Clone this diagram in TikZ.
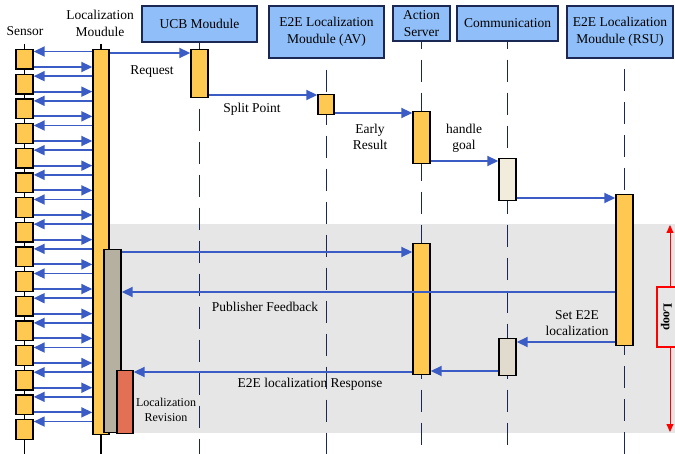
\documentclass[tikz,border=0pt]{standalone}
\usepackage{fontspec}
\setmainfont{Liberation Serif}
\usepackage{tikz}
\usetikzlibrary{arrows.meta, positioning, calc}

\definecolor{HeadBlue}{RGB}{143,190,248}
\definecolor{LineNavy}{RGB}{28,40,84}
\definecolor{MsgBlue}{RGB}{58,92,196}
\definecolor{BarYellow}{RGB}{255,200,80}
\definecolor{BarGrey}{RGB}{182,176,160}
\definecolor{BarCream}{RGB}{242,236,220}
\definecolor{BarRed}{RGB}{225,112,84}
\definecolor{LoopGrey}{RGB}{230,230,230}

\tikzset{
  head/.style={draw=LineNavy, line width=1.4pt, fill=HeadBlue, align=center,
    font=\fontsize{13.5}{16.5}\selectfont, inner sep=0pt},
  txt/.style={align=center, font=\fontsize{13.5}{16.5}\selectfont, inner sep=0pt},
  bar/.style={draw=black, line width=1.4pt, fill=BarYellow, minimum width=17pt,
    anchor=north, inner sep=0pt},
  life/.style={LineNavy, line width=1.6pt, dash pattern=on 22pt off 11pt},
  msg/.style={MsgBlue, line width=1.8pt, -{Triangle[length=11pt,width=10pt]}},
}

\begin{document}
\begin{tikzpicture}[x=1pt, y=-1pt]
  \useasboundingbox (0,0) rectangle (675,454);

  % Loop region
  \fill[LoopGrey] (110,224) rectangle (675,433);

  % Participants
  \node[txt] (sensorH) at (25,31) {Sensor};
  \node[txt] (locH) at (100,23.5) {Localization\\Moudule};
  \node[head, minimum width=115pt, minimum height=36pt] (ucbH) at (199.5,24) {UCB Moudule};
  \node[head, minimum width=115pt, minimum height=52pt] (avH) at (326.5,32) {E2E Localization\\Moudule (AV)};
  \node[head, minimum width=57pt, minimum height=35pt] (actH) at (421.5,23.5) {Action\\Server};
  \node[head, minimum width=101pt, minimum height=35pt] (comH) at (507.5,23.5) {Communication};
  \node[head, minimum width=106pt, minimum height=52pt] (rsuH) at (620,32) {E2E Localization\\Moudule (RSU)};

  % Lifelines
  \draw[black, line width=1.4pt] (24.5,44) -- (24.5,454);
  \draw[black, line width=1.4pt] (101,44) -- (101,454);
  \draw[life] (ucbH.south) -- (199.5,454);
  \draw[life, dash phase=22pt] (avH.south) -- (326.5,454);
  \draw[life, dash phase=15pt] (actH.south) -- (421.5,454);
  \draw[life, dash phase=15pt] (comH.south) -- (507.5,454);
  \draw[life, dash phase=22pt] (624.5,58) -- (624.5,454);

  % Activation bars
  \node[bar, minimum width=16pt, minimum height=385pt] (loc) at (101,49) {};
  \node[bar, minimum height=48pt] (ucbB) at (199.5,49) {};
  \node[bar, minimum width=16pt, minimum height=20pt] (avB) at (326,94) {};
  \node[bar, minimum height=52pt] (actA) at (421.5,111) {};
  \node[bar, fill=BarCream, minimum height=42pt] (comA) at (507.5,158) {};
  \node[bar, minimum height=151pt] (rsuB) at (624.5,194) {};
  \node[bar, fill=BarGrey, minimum height=183pt] (fbB) at (112.5,249) {};
  \node[bar, minimum height=131pt] (actB) at (421.5,243) {};
  \node[bar, fill=BarCream!93!black, minimum height=37pt] (comB) at (507.5,338) {};
  \node[bar, fill=BarRed, minimum width=16pt, minimum height=63pt] (revB) at (125,370) {};

  % Sensor readings
  \foreach \i in {0,...,15} {
    \pgfmathsetmacro\t{49+\i*24.67}
    \pgfmathsetmacro\ya{\t+2.5}
    \pgfmathsetmacro\yb{\t+18}
    \node[bar, minimum height=19.5pt] (s\i) at (24.5,\t) {};
    \draw[msg] (loc.west |- 0,\ya) -- (s\i.east |- 0,\ya);
    \ifnum\i<15
      \draw[msg] (s\i.east |- 0,\yb) -- (loc.west |- 0,\yb);
    \fi
  }

  % Messages
  \draw[msg] (loc.east |- 0,53) -- (ucbB.west |- 0,53);
  \draw[msg] (ucbB.east |- 0,95) -- (avB.west |- 0,95);
  \draw[msg] (avB.east |- 0,113) -- (actA.west |- 0,113);
  \draw[msg] (actA.east |- 0,161) -- (comA.west |- 0,161);
  \draw[msg] (comA.east |- 0,198) -- (rsuB.west |- 0,198);
  \draw[msg] (fbB.east |- 0,252) -- (actB.west |- 0,252);
  \draw[msg] (rsuB.west |- 0,292) -- (fbB.east |- 0,292);
  \draw[msg] (rsuB.west |- 0,342) -- (comB.east |- 0,342);
  \draw[msg] (comB.west |- 0,371) -- (actB.east |- 0,371);
  \draw[msg] (actB.west |- 0,372) -- (revB.east |- 0,372);

  % Message labels
  \node[txt] (reqL) at (152,72) {Request};
  \node[txt] (splitL) at (252,109.5) {Split Point};
  \node[txt] (earlyL) at (370,137) {Early\\Result};
  \node[txt] (goalL) at (464,138.5) {handle\\goal};
  \node[txt] (pubL) at (265,307) {Publisher Feedback};
  \node[txt] (setL) at (577,323) {Set E2E\\localization};
  \node[txt] (respL) at (310,384) {E2E localization Response};
  \node[txt, font=\fontsize{12}{15}\selectfont] (revL) at (166,409.5) {Localization\\Revision};

  % Loop marker
  \node[draw=red, line width=1.4pt, fill=LoopGrey, minimum width=26pt, minimum height=60pt] (loopB) at (670,317) {};
  \node[rotate=-90, inner sep=0pt, font=\fontsize{12.5}{14}\bfseries] (loopL) at (666.5,317) {Loop};
  \coordinate (loopTop) at (670,225);
  \coordinate (loopBot) at (670,432);
  \draw[red, line width=0.9pt, -{Triangle[length=8pt,width=7pt]}] (loopB.north) -- (loopTop);
  \draw[red, line width=0.9pt, -{Triangle[length=8pt,width=7pt]}] (loopB.south) -- (loopBot);
\end{tikzpicture}
\end{document}
